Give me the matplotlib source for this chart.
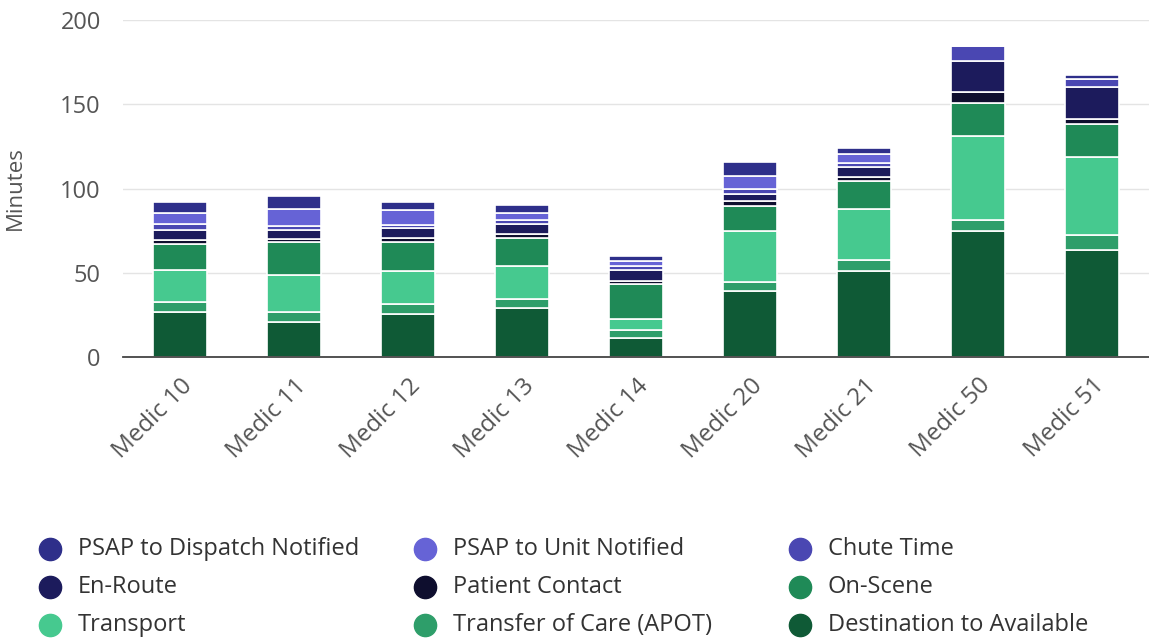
import numpy as np
import matplotlib.pyplot as plt
from matplotlib.lines import Line2D

plt.rcParams['font.family'] = ['Open Sans', 'DejaVu Sans']

# Units on the x axis
units = ['Medic 10', 'Medic 11', 'Medic 12', 'Medic 13', 'Medic 14',
         'Medic 20', 'Medic 21', 'Medic 50', 'Medic 51']

# Minutes per phase (stacked bottom to top)
dest_to_avail = [26.6, 20.6, 25.6, 29.0, 11.1, 38.9, 50.8, 74.6, 63.7]
transfer_care = [6.3, 6.4, 5.9, 5.3, 5.0, 5.9, 6.9, 6.9, 8.5]
transport = [18.9, 21.6, 19.7, 19.9, 6.3, 30.2, 30.2, 49.6, 46.7]
on_scene = [15.5, 19.7, 17.1, 16.4, 20.9, 14.9, 16.3, 19.5, 19.2]
patient_contact = [2.3, 1.7, 2.3, 2.6, 2.1, 2.5, 2.8, 6.4, 3.4]
en_route = [6.0, 5.6, 6.0, 6.0, 6.4, 4.6, 5.7, 18.8, 18.8]
chute_time = [3.6, 2.0, 2.0, 2.0, 2.0, 2.8, 2.6, 8.5, 4.6]
psap_unit = [6.3, 10.3, 8.9, 4.4, 3.4, 7.9, 4.9, 0.0, 0.0]
psap_dispatch = [6.3, 7.5, 4.3, 4.4, 3.0, 8.2, 4.0, 0.0, 2.4]

stack = [
    ('Destination to Available', dest_to_avail, '#0f5a36'),
    ('Transfer of Care (APOT)', transfer_care, '#2e9e6a'),
    ('Transport', transport, '#46c98f'),
    ('On-Scene', on_scene, '#1f8a57'),
    ('Patient Contact', patient_contact, '#0e0e2e'),
    ('En-Route', en_route, '#1c1b5c'),
    ('Chute Time', chute_time, '#4a47b2'),
    ('PSAP to Unit Notified', psap_unit, '#6663d6'),
    ('PSAP to Dispatch Notified', psap_dispatch, '#2e2f8a'),
]

legend_order = ['PSAP to Dispatch Notified', 'PSAP to Unit Notified', 'Chute Time',
                'En-Route', 'Patient Contact', 'On-Scene',
                'Transport', 'Transfer of Care (APOT)', 'Destination to Available']

fig = plt.figure(figsize=(11.49, 6.44), dpi=100)
ax = fig.add_axes([123 / 1149, 1 - 357 / 644, 1 - 123 / 1149, (357 - 20) / 644])

x = np.arange(len(units))
bottom = np.zeros(len(units))
for name, vals, col in stack:
    vals = np.array(vals)
    ax.bar(x, vals, width=0.47, bottom=bottom, color=col,
           edgecolor='white', linewidth=1.2, zorder=3)
    bottom += vals

ax.set_xlim(-0.5, 8.5)
ax.set_ylim(0, 200)
ax.set_yticks([0, 50, 100, 150, 200])
ax.grid(axis='y', color='#e4e4e4', linewidth=1, zorder=0)
for s in ['top', 'right', 'left']:
    ax.spines[s].set_visible(False)
ax.spines['bottom'].set_color('#444444')
ax.spines['bottom'].set_linewidth(1.3)
ax.spines['bottom'].set_zorder(4)
ax.tick_params(axis='both', length=0, labelsize=17, colors='#555555')
ax.tick_params(axis='y', pad=16)
ax.set_xticks(x)
ax.set_xticklabels(units, rotation=45, ha='right', rotation_mode='anchor', fontsize=17.5)
ax.tick_params(axis='x', pad=12)
ax.set_ylabel('Minutes', fontsize=16, color='#555555', labelpad=25)

colors = {name: col for name, _, col in stack}
for i, name in enumerate(legend_order):
    c, r = i % 3, i // 3
    mx = (50 + 375 * c) / 1149
    my = 1 - (549 + 38 * r) / 644
    fig.add_artist(Line2D([mx], [my], marker='o', markersize=16, color=colors[name],
                          linestyle='none', transform=fig.transFigure))
    fig.text(mx + 28 / 1149, my, name, fontsize=17, color='#333333',
             va='center', ha='left')

fig.savefig('out.png', dpi=100)
